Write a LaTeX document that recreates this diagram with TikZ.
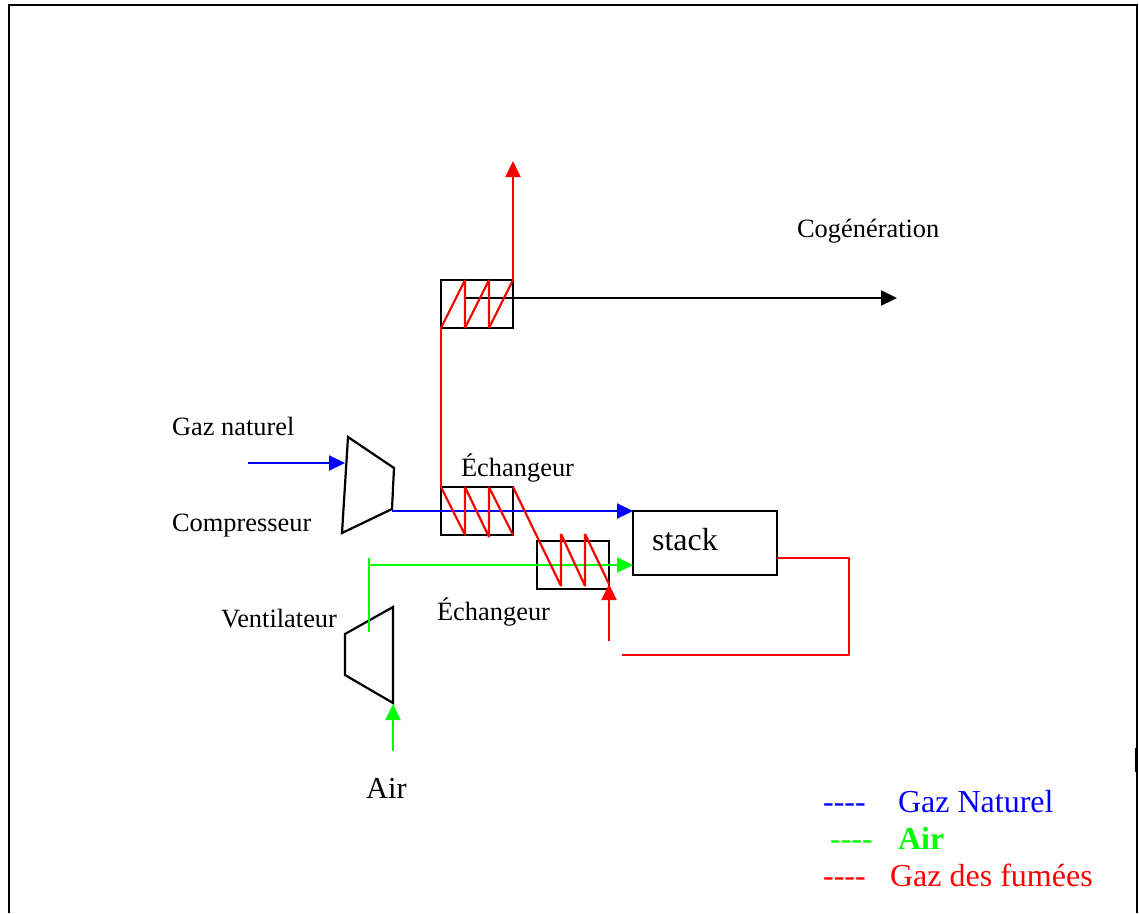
\documentclass[tikz,border=0pt]{standalone}
\usepackage{xcolor}
\usepackage{fontspec}
\setmainfont{Liberation Serif}
\usepackage{tikz}
\usetikzlibrary{arrows.meta,positioning}
\tikzset{
  every picture/.style = {
    x = 1pt,
    y = -1pt,
    line width = 2.2pt,
    >={Triangle[length=16pt,width=15pt]},
  }
  ,
  hexbox/.style = {
    rectangle,
    draw,
    outer sep = 0pt,
    inner sep = 0pt,
    minimum width = 72pt,
    minimum height = 48pt
  }
  ,
  stackbox/.style = {
    rectangle,
    draw,
    outer sep = 0pt,
    inner sep = 0pt,
    minimum width = 144pt,
    minimum height = 64pt
  }
  , % plain labels
  label-small/.style = {
    anchor = base west,
    inner sep = 0pt,
    font = \fontsize{26.4pt}{30pt}\selectfont
  }
  , % labels of the legend
  label-big/.style = {
    anchor = base west,
    inner sep = 0pt,
    font = \fontsize{32pt}{36pt}\selectfont
  }
  ,
  fume/.style = {color=red, line join=bevel},
  airflow/.style = {color=green},
  gasflow/.style = {color=blue}
}
\begin{document}
\begin{tikzpicture}
\useasboundingbox (0,0) rectangle (1139,913);
% frame
\coordinate (fa) at (9,913);
\coordinate (fb) at (9,5);
\coordinate (fc) at (1137,5);
\coordinate (fd) at (1137,913);
\coordinate (fe) at (1136,748);
\coordinate (ff) at (1136,772);
\draw[line width=1.8pt] (fa) -- (fb) -- (fc) -- (fd);
\draw[line width=1.8pt] (fe) -- (ff);
% exchangers and stack
\node[hexbox] at (477,304) (hxtop) {};
\node[hexbox] at (477,511) (hxmid) {};
\node[hexbox] at (573,565) (hxlow) {};
\node[stackbox] at (705,543) (stack) {};
\node[label-big] at (651,550) (stacktext) {stack};
% compressor and fan
\coordinate (ca) at (348,437);
\coordinate (cb) at (394,468);
\coordinate (cc) at (392,509);
\coordinate (cd) at (342,533);
\draw (ca) -- (cb) -- (cc) -- (cd) -- cycle;
\coordinate (va) at (393,607);
\coordinate (vb) at (393,703);
\coordinate (vc) at (345,675);
\coordinate (vd) at (345,634);
\draw (va) -- (vb) -- (vc) -- (vd) -- cycle;
% natural gas
\coordinate (gasin) at (248,463);
\coordinate (gastip) at (345,463);
\coordinate (gasout) at (392,511);
\coordinate (stackgas) at (633,511);
\draw[->,gasflow] (gasin) -- (gastip);
\draw[->,gasflow] (gasout) -- (stackgas);
% air
\coordinate (airin) at (393,751);
\coordinate (airtip) at (393,704);
\coordinate (fanout) at (369,632);
\coordinate (airtop) at (369,558);
\coordinate (aircorner) at (369,565);
\coordinate (stackair) at (633,565);
\draw[->,airflow] (airin) -- (airtip);
\draw[airflow] (fanout) -- (airtop);
\draw[->,airflow] (aircorner) -- (stackair);
% cogeneration
\coordinate (cogenin) at (465,298);
\coordinate (cogenout) at (897,298);
\draw[->] (cogenin) -- (cogenout);
% flue gas
\coordinate (stackout) at (777,558);
\coordinate (loopa) at (849,558);
\coordinate (loopb) at (849,655);
\coordinate (loopc) at (622,655);
\coordinate (fumein) at (609,641);
\coordinate (fumetip) at (609,584);
\coordinate (chimney) at (513,161);
\draw[fume] (stackout) -- (loopa) -- (loopb) -- (loopc);
\draw[->,fume] (fumein) -- (fumetip);
\draw[fume] (hxlow.east |- fumetip) -- ++(-24,-50) -- ++(0,52) -- ++(-24,-52) -- ++(0,52) -- (hxmid.north east);
\draw[fume] (hxmid.south east) -- ++(-24,-48) -- ++(0,50) -- ++(-24,-50) -- ++(0,48) -- (hxmid.north west);
\draw[fume] (hxmid.north west) -- (hxtop.south west);
\draw[fume] (hxtop.south west) -- ++(24,-48) -- ++(0,48) -- ++(24,-48) -- ++(0,48) -- (hxtop.north east);
\draw[->,fume] (hxtop.north east) -- (chimney);
% labels
\node[label-small] at (796,237) (cogen) {Cogénération};
\node[label-small] at (171,435) (gaz) {Gaz naturel};
\node[label-small] at (171,531) (comp) {Compresseur};
\node[label-small] at (220,627) (vent) {Ventilateur};
\node[label-small] at (460,476) (echa) {Échangeur};
\node[label-small] at (436,620) (echb) {Échangeur};
\node[label-big,font=\fontsize{30.5pt}{34pt}\selectfont] at (365,798) (air) {Air};
% legend
\node[label-big,gasflow] at (822,812) (dasha) {{-}{-}{-}{-}};
\node[label-big,gasflow] at (897,812) (lega) {Gaz Naturel};
\node[label-big,airflow] at (829,849) (dashb) {{-}{-}{-}{-}};
\node[label-big,airflow,font=\fontsize{32pt}{36pt}\selectfont\bfseries] at (897,849) (legb) {Air};
\node[label-big,fume] at (822,886) (dashc) {{-}{-}{-}{-}};
\node[label-big,fume] at (889,886) (legc) {Gaz des fumées};
\end{tikzpicture}
\end{document}
